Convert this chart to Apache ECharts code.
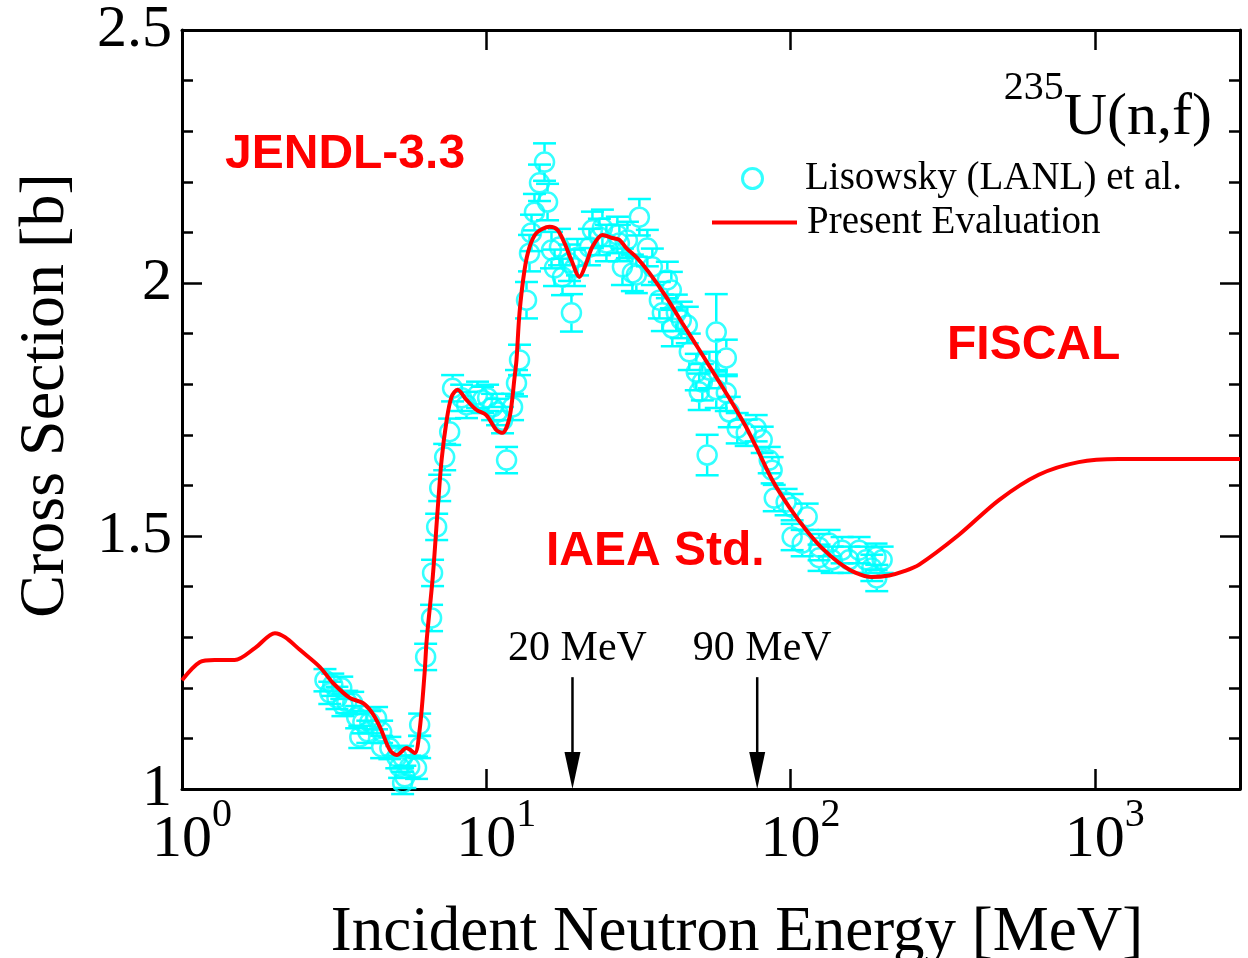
<!DOCTYPE html>
<html>
<head>
<meta charset="utf-8">
<script src="https://cdn.jsdelivr.net/npm/echarts@6/dist/echarts.min.js"></script>
<style>
  html, body { margin: 0; padding: 0; background: #fff; }
  #main { width: 1248px; height: 958px; }
</style>
</head>
<body>
<div id="main"></div>
<script>
// Present Evaluation curve (energy in MeV, cross section in b)
var evalE = [1, 1.146, 1.28, 1.49, 1.74, 2.02, 2.18, 2.44, 2.84, 3.13, 3.56, 3.93, 4.20, 4.47, 4.82, 5.08, 5.47, 5.82, 6.04, 6.27, 6.37,
  6.67, 6.92, 7.13, 7.41, 7.69, 8.05, 8.61, 9.29, 10.0, 10.81, 11.31, 11.93, 12.39, 12.57, 12.86, 13.36, 13.87, 14.63, 16.14, 17.14,
  18.07, 19.05, 20.24, 21.34, 22.3, 24.08, 25.97, 27.38, 28.87, 31.13, 34.35, 39.05, 44.06, 50.1, 57.0, 64.3, 71.5, 77.1, 87.0, 99.0,
  112.5, 127, 144.4, 164, 185, 211, 235, 264, 357, 484, 654, 885, 1198, 3000];
var evalXS = [1.215, 1.251, 1.255, 1.255, 1.279, 1.308, 1.300, 1.275, 1.241, 1.210, 1.180, 1.170, 1.152, 1.123, 1.077, 1.067, 1.081, 1.071, 1.117, 1.229, 1.294,
  1.419, 1.551, 1.650, 1.729, 1.775, 1.789, 1.769, 1.749, 1.739, 1.709, 1.704, 1.735, 1.814, 1.848, 1.941, 2.026, 2.071, 2.099, 2.111, 2.105,
  2.079, 2.045, 2.012, 2.040, 2.071, 2.095, 2.089, 2.085, 2.069, 2.051, 2.020, 1.972, 1.921, 1.868, 1.814, 1.763, 1.715, 1.676, 1.611, 1.557,
  1.512, 1.476, 1.447, 1.427, 1.419, 1.422, 1.430, 1.443, 1.502, 1.571, 1.621, 1.646, 1.652, 1.652];

// Lisowsky (LANL) et al. measurement
var lisE = [2.95, 3.06, 3.13, 3.23, 3.35, 3.38, 3.48, 3.64, 3.75, 3.84, 3.93, 4.08, 4.14, 4.36, 4.53, 4.53, 4.82, 5.08, 5.19, 5.31, 5.31, 5.40, 5.60, 5.90, 6.04, 6.04,
  6.32, 6.61, 6.66, 6.87, 7.03, 7.30, 7.58, 7.75, 8.30, 8.61, 9.36, 9.72, 10.10, 10.49, 10.89, 11.31, 11.66, 12.20, 12.57, 12.86,
  13.56, 13.87, 14.08, 14.40, 14.96, 15.54, 15.90, 16.38, 16.76, 17.40, 17.80, 18.77, 19.05, 19.49, 19.94, 21.83, 22.33, 23.54, 24.08, 24.82,
  26.97, 27.38, 28.02, 29.10, 30.21, 31.13, 31.85, 33.83, 35.14, 37.06, 37.90, 39.36, 40.57, 40.87, 42.13, 43.75, 45.78, 46.48, 49.0, 50.1,
  51.3, 53.2, 54.1, 57.0, 57.0, 61.5, 61.5, 62.9, 66.8,
  71.5, 77.1, 80.7, 85.1, 87.0, 88.4, 96.7, 101.2, 101.2, 109.2, 113.4, 124.1, 124.1, 133.9, 137, 147.7, 155.7, 168, 177, 185, 191, 192, 200];
var lisXS = [1.215, 1.190, 1.206, 1.180, 1.200, 1.166, 1.172, 1.170, 1.142, 1.103, 1.132, 1.113, 1.132, 1.140, 1.113, 1.083, 1.081, 1.063, 1.044, 1.063, 1.012, 1.024, 1.044, 1.042, 1.083, 1.127,
  1.261, 1.338, 1.427, 1.518, 1.595, 1.656, 1.706, 1.792, 1.773, 1.759, 1.779, 1.769, 1.773, 1.755, 1.745, 1.729, 1.650, 1.755, 1.802, 1.848,
  1.966, 2.059, 2.099, 2.140, 2.198, 2.239, 2.160, 2.065, 2.030, 2.071, 2.012, 2.040, 1.941, 2.030, 2.051, 2.071, 2.105, 2.091, 2.109, 2.079,
  2.095, 2.079, 2.032, 2.085, 2.020, 2.016, 2.130, 2.069, 2.032, 1.966, 1.941, 2.006, 1.986, 1.911, 1.941, 1.927, 1.917, 1.864, 1.824, 1.785,
  1.804, 1.660, 1.828, 1.903, 1.789, 1.852, 1.783, 1.745, 1.713,
  1.704, 1.713, 1.690, 1.650, 1.630, 1.575, 1.567, 1.557, 1.498, 1.486, 1.538, 1.478, 1.457, 1.486, 1.453, 1.472, 1.453, 1.472, 1.453, 1.437, 1.459, 1.417, 1.453];
var lisErr = [0.022, 0.022, 0.022, 0.022, 0.022, 0.022, 0.022, 0.022, 0.022, 0.022, 0.022, 0.022, 0.022, 0.022, 0.022, 0.022, 0.022, 0.022, 0.022, 0.022, 0.022, 0.022, 0.022, 0.022, 0.022, 0.022,
  0.026, 0.026, 0.026, 0.026, 0.026, 0.026, 0.026, 0.026, 0.026, 0.026, 0.026, 0.026, 0.026, 0.026, 0.026, 0.026, 0.026, 0.026, 0.026, 0.030,
  0.036, 0.036, 0.036, 0.036, 0.036, 0.037, 0.036, 0.036, 0.036, 0.036, 0.036, 0.036, 0.037, 0.036, 0.036, 0.036, 0.036, 0.036, 0.036, 0.036,
  0.036, 0.036, 0.036, 0.036, 0.036, 0.036, 0.036, 0.036, 0.036, 0.036, 0.036, 0.036, 0.036, 0.036, 0.036, 0.036, 0.036, 0.036, 0.036, 0.036,
  0.036, 0.040, 0.036, 0.075, 0.036, 0.036, 0.036, 0.030, 0.030,
  0.026, 0.026, 0.026, 0.026, 0.026, 0.026, 0.026, 0.026, 0.026, 0.026, 0.026, 0.026, 0.026, 0.026, 0.026, 0.026, 0.026, 0.026, 0.026, 0.026, 0.026, 0.026, 0.026];

// arrows marking 20 MeV and 90 MeV
var arrowE = [19.2, 77.7];
var arrowTop = [1.221, 1.221];
var arrowText = ['20 MeV', '90 MeV'];

var xTicks = [1, 10, 100, 1000];

var serif = '"Liberation Serif", "Times New Roman", serif';
var sans = '"Liberation Sans", Arial, sans-serif';
var cyan = '#00FFFF';

var chart = echarts.init(document.getElementById('main'));

function errorBar(params, api) {
  var x = api.value(0), y = api.value(1), e = api.value(2);
  var c = api.coord([x, y]);
  var hi = api.coord([x, y + e]);
  var lo = api.coord([x, y - e]);
  var r = 10.5, w = 11.5;
  var st = { stroke: cyan, lineWidth: 2.5 };
  var kids = [
    { type: 'line', shape: { x1: hi[0] - w, y1: hi[1], x2: hi[0] + w, y2: hi[1] }, style: st },
    { type: 'line', shape: { x1: lo[0] - w, y1: lo[1], x2: lo[0] + w, y2: lo[1] }, style: st }
  ];
  if (c[1] - hi[1] > r) {
    kids.push({ type: 'line', shape: { x1: c[0], y1: hi[1], x2: c[0], y2: c[1] - r }, style: st });
    kids.push({ type: 'line', shape: { x1: c[0], y1: c[1] + r, x2: c[0], y2: lo[1] }, style: st });
  }
  return { type: 'group', children: kids };
}

function arrow(params, api) {
  var x = api.value(0), top = api.value(1);
  var p0 = api.coord([x, top]);
  var p1 = api.coord([x, 1]);
  return {
    type: 'group',
    children: [
      { type: 'line', shape: { x1: p0[0], y1: p0[1], x2: p1[0], y2: p1[1] - 30 }, style: { stroke: '#000', lineWidth: 2.5 } },
      { type: 'polygon', shape: { points: [[p1[0] - 8, p1[1] - 37], [p1[0] + 8, p1[1] - 37], [p1[0], p1[1]]] }, style: { fill: '#000' } },
      { type: 'text', x: p0[0] + 5, y: p0[1] - 7,
        style: { text: arrowText[params.dataIndex], font: '42px ' + serif, fill: '#000', align: 'center', verticalAlign: 'bottom' } }
    ]
  };
}

var axisLineStyle = { color: '#000', width: 3 };

var option = {
  backgroundColor: '#fff',
  animation: false,
  grid: { left: 182, right: 8, top: 30, bottom: 169, containLabel: false, outerBoundsMode: 'none' },
  title: {
    text: '{s|235}{b|U(n,f)}',
    right: 36, top: 68, padding: 0,
    textStyle: {
      fontWeight: 'normal',
      rich: {
        s: { fontSize: 40, fontFamily: serif, fontWeight: 'normal', color: '#000', lineHeight: 40, verticalAlign: 'top' },
        b: { fontSize: 60, fontFamily: serif, fontWeight: 'normal', color: '#000', lineHeight: 80, verticalAlign: 'bottom' }
      }
    }
  },
  legend: [
    {
      data: [{ name: 'Lisowsky (LANL) et al.', icon: 'circle',
        itemStyle: { color: 'rgba(0,0,0,0)', borderColor: cyan, borderWidth: 3 } }],
      left: 741, top: 159, itemWidth: 85, itemHeight: 20, padding: 0,
      selectedMode: false,
      textStyle: { fontSize: 39, fontFamily: serif, color: '#000', padding: [0, 0, 0, 5] }
    },
    {
      data: [{ name: 'Present Evaluation', icon: 'rect', itemStyle: { color: '#FF0000' } }],
      left: 712, top: 203, itemWidth: 85, itemHeight: 4, padding: 0,
      selectedMode: false,
      textStyle: { fontSize: 39, fontFamily: serif, color: '#000', padding: [0, 0, 0, 5] }
    }
  ],
  xAxis: [
    {
      type: 'log', logBase: 10, min: 1, max: 3000, position: 'bottom',
      axisLine: { onZero: false, lineStyle: axisLineStyle },
      axisTick: { inside: true, length: 20, lineStyle: { color: '#000', width: 2.5 } },
      splitLine: { show: false },
      axisLabel: {
        margin: 2, showMaxLabel: false,
        formatter: function (v) {
          var n = Math.log10(v), r = Math.round(n);
          if (Math.abs(n - r) > 1e-6 || xTicks.indexOf(Math.pow(10, r)) < 0) return '';
          return '{p| }{b|10}{s|' + r + '}';
        },
        rich: {
          p: { width: 20, fontSize: 10, lineHeight: 10, verticalAlign: 'top' },
          b: { fontSize: 60, fontFamily: serif, color: '#000', lineHeight: 60, verticalAlign: 'top', padding: [19, 0, 0, 0] },
          s: { fontSize: 40, fontFamily: serif, color: '#000', lineHeight: 40, verticalAlign: 'top', padding: [4, 0, 0, 0] }
        }
      },
      name: 'Incident Neutron Energy [MeV]',
      nameLocation: 'middle', nameGap: 113,
      nameTextStyle: { fontSize: 63, fontFamily: serif, color: '#000', padding: [0, 0, 0, 52] }
    },
    {
      type: 'log', logBase: 10, min: 1, max: 3000, position: 'top',
      axisLine: { onZero: false, lineStyle: axisLineStyle },
      axisTick: { inside: true, length: 20, lineStyle: { color: '#000', width: 2.5 } },
      axisLabel: { show: false },
      splitLine: { show: false }
    }
  ],
  yAxis: [
    {
      type: 'value', min: 1, max: 2.5, interval: 0.5, position: 'left',
      axisLine: { show: true, onZero: false, lineStyle: axisLineStyle },
      axisTick: { inside: true, length: 20, lineStyle: { color: '#000', width: 2.5 } },
      minorTick: { show: true, splitNumber: 5, length: 11, lineStyle: { color: '#000', width: 2.5 } },
      splitLine: { show: false },
      minorSplitLine: { show: false },
      axisLabel: { margin: 10, fontSize: 60, fontFamily: serif, color: '#000' },
      name: 'Cross Section [b]',
      nameLocation: 'middle', nameGap: 104,
      nameTextStyle: { fontSize: 64, fontFamily: serif, color: '#000', padding: [0, 0, 0, 28] }
    },
    {
      type: 'value', min: 1, max: 2.5, interval: 0.5, position: 'right',
      axisLine: { show: true, onZero: false, lineStyle: axisLineStyle },
      axisTick: { inside: true, length: 20, lineStyle: { color: '#000', width: 2.5 } },
      minorTick: { show: true, splitNumber: 5, length: 11, lineStyle: { color: '#000', width: 2.5 } },
      splitLine: { show: false },
      minorSplitLine: { show: false },
      axisLabel: { show: false }
    }
  ],
  graphic: [
    { type: 'text', left: 225, top: 131, style: { text: 'JENDL-3.3', font: 'bold 48px ' + sans, fill: '#FF0000' } },
    { type: 'text', left: 546, top: 528, style: { text: 'IAEA Std.', font: 'bold 48px ' + sans, fill: '#FF0000' } },
    { type: 'text', left: 947, top: 322, style: { text: 'FISCAL', font: 'bold 48px ' + sans, fill: '#FF0000' } }
  ],
  series: [
    {
      name: 'errors', type: 'custom', renderItem: errorBar, z: 2, silent: true,
      data: lisE.map(function (e, i) { return [e, lisXS[i], lisErr[i]]; })
    },
    {
      name: 'Lisowsky (LANL) et al.', type: 'scatter', z: 3, silent: true,
      symbol: 'circle', symbolSize: 19,
      itemStyle: { color: 'rgba(0,0,0,0)', borderColor: cyan, borderWidth: 2.5 },
      data: lisE.map(function (e, i) { return [e, lisXS[i]]; })
    },
    {
      name: 'arrows', type: 'custom', renderItem: arrow, z: 4, silent: true,
      data: arrowE.map(function (e, i) { return [e, arrowTop[i]]; })
    },
    {
      name: 'Present Evaluation', type: 'line', z: 5, silent: true,
      symbol: 'none', showSymbol: false, smooth: 0.3,
      lineStyle: { color: '#FF0000', width: 4 },
      itemStyle: { color: '#FF0000' },
      data: evalE.map(function (e, i) { return [e, evalXS[i]]; })
    }
  ]
};

chart.setOption(option);
window.addEventListener('resize', chart.resize);
</script>
</body>
</html>
